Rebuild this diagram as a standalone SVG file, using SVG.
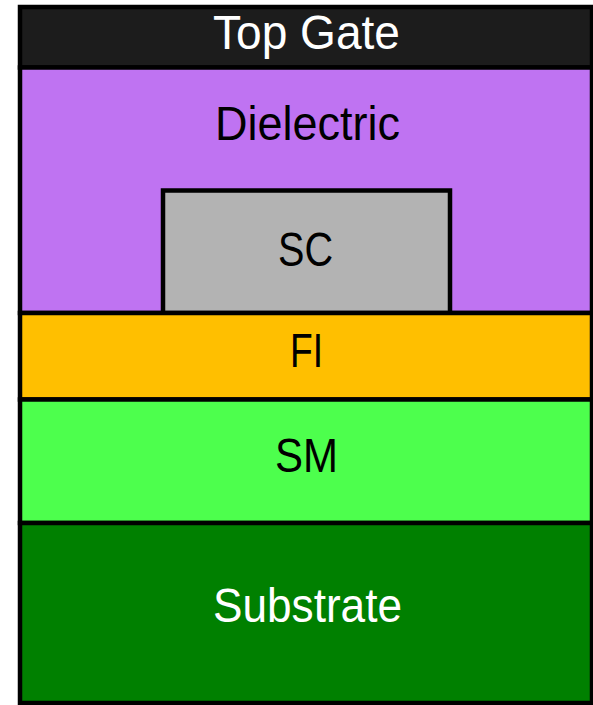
<svg xmlns="http://www.w3.org/2000/svg" width="593" height="705" viewBox="0 0 593 705">
<style>
.layer{stroke:#000;stroke-width:4.5}
.lbl{font-family:"Liberation Sans",Arial,sans-serif;font-size:48px;text-anchor:middle}
</style>
<rect width="593" height="705" fill="#fff"/>
<g id="top-gate">
<rect class="layer" x="20" y="7" width="572" height="60.5" fill="#1c1c1c"/>
<text class="lbl" x="306.5" y="49" fill="#fff" textLength="187" lengthAdjust="spacingAndGlyphs">Top Gate</text>
</g>
<g id="dielectric">
<rect class="layer" x="20" y="67.5" width="572" height="245.5" fill="#bf73f2"/>
<text class="lbl" x="307.5" y="140" fill="#000" textLength="185" lengthAdjust="spacingAndGlyphs">Dielectric</text>
</g>
<g id="sc">
<rect class="layer" x="163" y="190.5" width="287" height="122.5" fill="#b3b3b3"/>
<text class="lbl" x="305.5" y="266" fill="#000" textLength="55" lengthAdjust="spacingAndGlyphs">SC</text>
</g>
<g id="fi">
<rect class="layer" x="20" y="313" width="572" height="86.5" fill="#ffbf00"/>
<text class="lbl" x="306.5" y="367" fill="#000" textLength="33" lengthAdjust="spacingAndGlyphs">FI</text>
</g>
<g id="sm">
<rect class="layer" x="20" y="399.5" width="572" height="123.5" fill="#4dff4d"/>
<text class="lbl" x="306.5" y="472" fill="#000" textLength="63" lengthAdjust="spacingAndGlyphs">SM</text>
</g>
<g id="substrate">
<rect class="layer" x="20" y="523" width="572" height="180" fill="#008000"/>
<text class="lbl" x="307.5" y="622" fill="#fff" textLength="189" lengthAdjust="spacingAndGlyphs">Substrate</text>
</g>
<g id="connectors"/>
</svg>
